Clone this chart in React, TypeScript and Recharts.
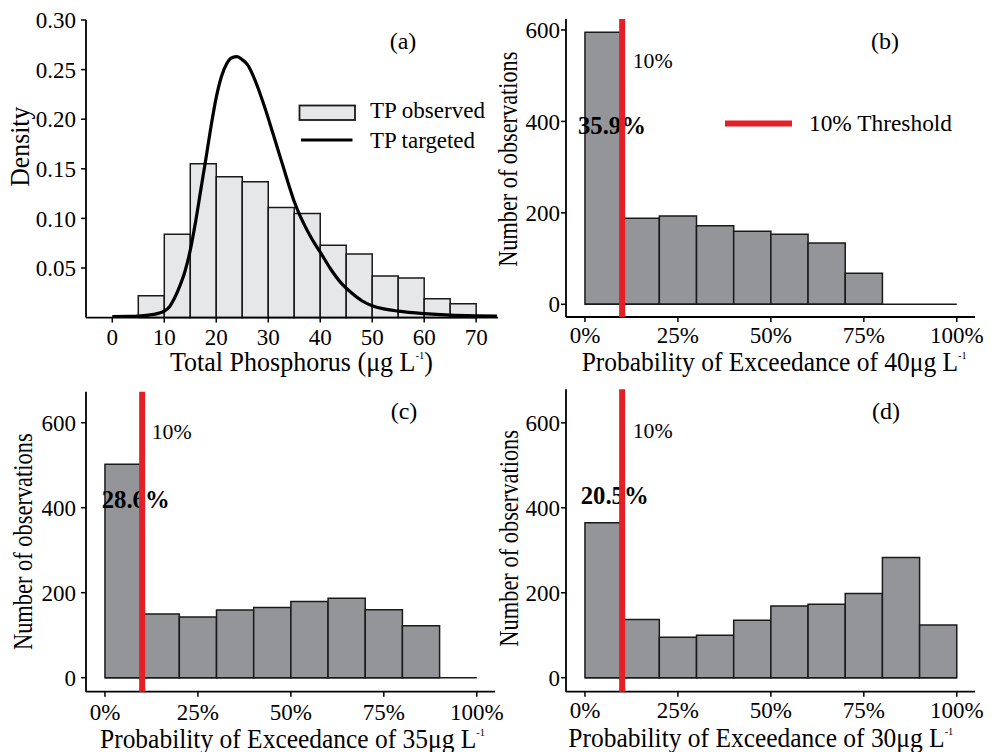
import React from "react"
import {
  ComposedChart,
  Line,
  XAxis,
  YAxis,
  ReferenceArea,
  ReferenceLine,
} from "recharts"

const FONT = '"Liberation Serif", "Times New Roman", serif'
const RED = "#e41f26"
const BAR_GRAY = "#939598"
const HIST_FILL = "#e6e7e8"
const EDGE = "#1a1a1a"

// (a) observed TP histogram, 5 ug/L bins
const tpBinStart = [5, 10, 15, 20, 25, 30, 35, 40, 45, 50, 55, 60, 65]
const tpDensity = [0.022, 0.084, 0.155, 0.142, 0.137, 0.111, 0.105, 0.073, 0.064, 0.042, 0.04, 0.019, 0.014]
const tpBinWidth = 5

// (a) targeted TP density curve
const curveX = [0, 3, 5, 7, 9, 10, 11, 12, 13, 14, 15, 16, 17, 18, 19, 20, 21, 22, 23, 24, 25, 26, 27, 28, 29, 30, 31, 32, 33, 34, 35, 36, 37, 38, 39, 40, 42, 44, 46, 48, 50, 52, 55, 60, 65, 70, 74]
const curveY = [0.001, 0.0012, 0.0015, 0.0025, 0.0045, 0.0065, 0.011, 0.02, 0.032, 0.047, 0.068, 0.096, 0.128, 0.16, 0.193, 0.222, 0.243, 0.256, 0.262, 0.263, 0.26, 0.255, 0.245, 0.232, 0.217, 0.201, 0.184, 0.167, 0.15, 0.133, 0.117, 0.104, 0.093, 0.083, 0.074, 0.066, 0.049, 0.035, 0.025, 0.017, 0.012, 0.009, 0.0065, 0.004, 0.0025, 0.0018, 0.0015]

const densityTicks = [0.05, 0.1, 0.15, 0.2, 0.25, 0.3]
const tpTicks = [0, 10, 20, 30, 40, 50, 60, 70]

// (b)-(d) probability of exceedance histograms, 10% bins
const probBinStart = [0, 10, 20, 30, 40, 50, 60, 70, 80, 90]
const probBinWidth = 10
const counts40 = [595, 188, 193, 172, 160, 153, 134, 68, 0, 0]
const counts35 = [502, 150, 143, 159, 165, 179, 187, 160, 122, 0]
const counts30 = [365, 137, 95, 100, 135, 169, 173, 198, 283, 124]
const probTicks = [0, 25, 50, 75, 100]
const countTicks = [0, 200, 400, 600]
const threshold = 10

const tickStyle = { fontSize: 23, fill: "#000", fontFamily: FONT }
const axisLine = { stroke: "#000", strokeWidth: 1.8 }
const tickLine = { stroke: "#000", strokeWidth: 1.5 }

function ShareLabel(props: any) {
  const { viewBox, text, dx, baseY } = props
  return (
    <text
      x={viewBox.x + dx}
      y={baseY}
      fontFamily={FONT}
      fontWeight="bold"
      fontSize={25}
      textLength={68}
      lengthAdjust="spacingAndGlyphs"
      fill="#000"
    >
      {text}
    </text>
  )
}

function DensityPanel() {
  const data = curveX.map((x, i) => ({ x, d: curveY[i] }))
  return (
    <div style={{ position: "absolute", left: 0, top: 0 }}>
      <ComposedChart width={510} height={380} data={data} margin={{ top: 20, right: 12, bottom: 0, left: 0 }}>
        <XAxis
          type="number"
          dataKey="x"
          domain={[-5.06, 74.2]}
          ticks={tpTicks}
          allowDataOverflow
          height={62.4}
          tick={tickStyle}
          tickSize={5}
          tickMargin={6}
          axisLine={axisLine}
          tickLine={tickLine}
        />
        <YAxis
          type="number"
          domain={[0, 0.3]}
          ticks={densityTicks}
          allowDataOverflow
          width={86}
          tick={tickStyle}
          tickFormatter={(v: number) => v.toFixed(2)}
          tickSize={5}
          tickMargin={5}
          axisLine={axisLine}
          tickLine={tickLine}
        />
        {tpBinStart.map((x0, i) => (
          <ReferenceArea
            key={x0}
            x1={x0}
            x2={x0 + tpBinWidth}
            y1={0}
            y2={tpDensity[i]}
            fill={HIST_FILL}
            fillOpacity={1}
            stroke={EDGE}
            strokeWidth={1.5}
          />
        ))}
        <Line
          type="monotone"
          dataKey="d"
          stroke="#000"
          strokeWidth={3.2}
          dot={false}
          isAnimationActive={false}
        />
      </ComposedChart>
    </div>
  )
}

type ProbProps = {
  left: number
  top: number
  width: number
  height: number
  marginTop: number
  marginRight: number
  yWidth: number
  xHeight: number
  yDomain: [number, number]
  counts: number[]
  share: string
  shareDx: number
  shareY: number
  yTickMargin: number
  xTickMargin: number
}

function ProbPanel(p: ProbProps) {
  const data = probBinStart.map((x, i) => ({ x: x + probBinWidth / 2, n: p.counts[i] }))
  return (
    <div style={{ position: "absolute", left: p.left, top: p.top }}>
      <ComposedChart
        width={p.width}
        height={p.height}
        data={data}
        margin={{ top: p.marginTop, right: p.marginRight, bottom: 0, left: 0 }}
      >
        <XAxis
          type="number"
          dataKey="x"
          domain={[-5.1, 104.9]}
          ticks={probTicks}
          allowDataOverflow
          height={p.xHeight}
          tick={tickStyle}
          tickFormatter={(v: number) => v + "%"}
          tickSize={5}
          tickMargin={p.xTickMargin}
          axisLine={axisLine}
          tickLine={tickLine}
        />
        <YAxis
          type="number"
          domain={p.yDomain}
          ticks={countTicks}
          allowDataOverflow
          width={p.yWidth}
          tick={tickStyle}
          tickSize={5}
          tickMargin={p.yTickMargin}
          axisLine={axisLine}
          tickLine={tickLine}
        />
        <ReferenceLine
          segment={[{ x: 0, y: 0 }, { x: 100, y: 0 }]}
          stroke={EDGE}
          strokeWidth={1.5}
        />
        {probBinStart.map((x0, i) =>
          p.counts[i] > 0 ? (
            <ReferenceArea
              key={x0}
              x1={x0}
              x2={x0 + probBinWidth}
              y1={0}
              y2={p.counts[i]}
              fill={BAR_GRAY}
              fillOpacity={1}
              stroke={EDGE}
              strokeWidth={1.5}
              label={i === 0 ? <ShareLabel text={p.share} dx={p.shareDx} baseY={p.shareY} /> : undefined}
            />
          ) : null
        )}
        <ReferenceLine x={threshold} stroke={RED} strokeWidth={6} zIndex={3000} />
      </ComposedChart>
    </div>
  )
}

function Annotations() {
  const t = { fontFamily: FONT, fill: "#000" }
  const yTitle = (x: number, y: number, len: number, key: string) => (
    <text
      key={key}
      transform={`translate(${x},${y}) rotate(-90)`}
      textAnchor="middle"
      fontSize={27}
      textLength={len}
      lengthAdjust="spacingAndGlyphs"
      {...t}
    >
      Number of observations
    </text>
  )
  const sup = (s: string) => (
    <tspan fontSize={11} dy={-12}>{s}</tspan>
  )
  return (
    <svg
      width={994}
      height={752}
      style={{ position: "absolute", left: 0, top: 0, pointerEvents: "none" }}
    >
      {/* panel letters */}
      <text x={403} y={49} textAnchor="middle" fontSize={24} {...t}>(a)</text>
      <text x={885} y={49} textAnchor="middle" fontSize={24} {...t}>(b)</text>
      <text x={404} y={419} textAnchor="middle" fontSize={24} {...t}>(c)</text>
      <text x={886} y={418.5} textAnchor="middle" fontSize={24} {...t}>(d)</text>

      {/* legend (a) */}
      <rect x={299.5} y={105.5} width={55.5} height={14.5} fill={HIST_FILL} stroke={EDGE} strokeWidth={1.8} />
      <text x={370} y={118} fontSize={24} textLength={115} lengthAdjust="spacingAndGlyphs" {...t}>TP observed</text>
      <line x1={301} x2={352.5} y1={140} y2={140} stroke="#000" strokeWidth={3.2} />
      <text x={370} y={148} fontSize={24} textLength={105} lengthAdjust="spacingAndGlyphs" {...t}>TP targeted</text>

      {/* legend (b) */}
      <line x1={725} x2={792} y1={123.5} y2={123.5} stroke={RED} strokeWidth={6} />
      <text x={809} y={130.5} fontSize={24} textLength={143} lengthAdjust="spacingAndGlyphs" {...t}>10% Threshold</text>

      {/* threshold labels */}
      <text x={632.7} y={68} fontSize={22} textLength={40} lengthAdjust="spacingAndGlyphs" {...t}>10%</text>
      <text x={151.7} y={439.3} fontSize={22} textLength={40} lengthAdjust="spacingAndGlyphs" {...t}>10%</text>
      <text x={632.7} y={437.7} fontSize={22} textLength={40} lengthAdjust="spacingAndGlyphs" {...t}>10%</text>

      {/* axis titles */}
      <text transform="translate(28.5,146.7) rotate(-90)" textAnchor="middle" fontSize={27} textLength={80} lengthAdjust="spacingAndGlyphs" {...t}>
        Density
      </text>
      <text x={170} y={370.7} fontSize={27} textLength={263} lengthAdjust="spacingAndGlyphs" {...t}>
        Total Phosphorus (μg L{sup("-1")}<tspan dy={12}>)</tspan>
      </text>
      {yTitle(516.7, 159.2, 215, "yb")}
      {yTitle(31.7, 541.7, 216.7, "yc")}
      {yTitle(518.3, 538.3, 216.7, "yd")}
      <text x={581.7} y={370.7} fontSize={27} textLength={385} lengthAdjust="spacingAndGlyphs" {...t}>
        Probability of Exceedance of 40μg L{sup("-1")}
      </text>
      <text x={100} y={748} fontSize={27} textLength={385} lengthAdjust="spacingAndGlyphs" {...t}>
        Probability of Exceedance of 35μg L{sup("-1")}
      </text>
      <text x={568.3} y={746.7} fontSize={27} textLength={385} lengthAdjust="spacingAndGlyphs" {...t}>
        Probability of Exceedance of 30μg L{sup("-1")}
      </text>
    </svg>
  )
}

export default function App() {
  return (
    <div style={{ position: "absolute", left: 0, top: 0, width: 994, height: 752, background: "#fff", fontFamily: FONT }}>
      <style>{`svg text, svg tspan { font-family: "Liberation Serif", "Times New Roman", serif !important; }`}</style>
      <DensityPanel />
      <ProbPanel
        left={490} top={0} width={504} height={380}
        marginTop={19} marginRight={19} yWidth={76} xHeight={63}
        yDomain={[-27.8, 624]} counts={counts40}
        share="35.9%" shareDx={-7} shareY={134.3}
        yTickMargin={1} xTickMargin={5}
      />
      <ProbPanel
        left={0} top={380} width={510} height={372}
        marginTop={11.7} marginRight={15} yWidth={86} xHeight={60.3}
        yDomain={[-33, 673]} counts={counts35}
        share="28.6%" shareDx={-3.3} shareY={127.7}
        yTickMargin={5} xTickMargin={7}
      />
      <ProbPanel
        left={490} top={380} width={504} height={372}
        marginTop={9.3} marginRight={19} yWidth={76} xHeight={60.3}
        yDomain={[-33, 679]} counts={counts30}
        share="20.5%" shareDx={-4.3} shareY={124}
        yTickMargin={1} xTickMargin={5}
      />
      <Annotations />
    </div>
  )
}
